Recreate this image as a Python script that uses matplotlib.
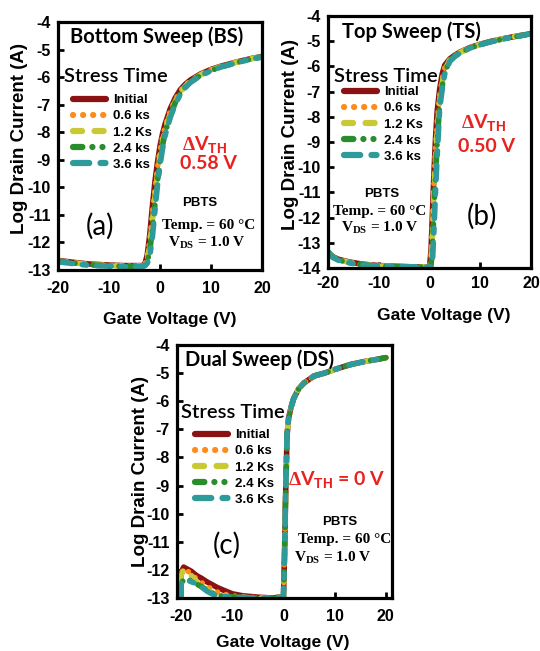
import numpy as np
import matplotlib
matplotlib.use('Agg')
import matplotlib.pyplot as plt
from matplotlib.lines import Line2D

plt.rcParams['font.family'] = 'Liberation Sans'
plt.rcParams['font.weight'] = 'bold'
plt.rcParams['axes.unicode_minus'] = False
plt.rcParams['mathtext.fontset'] = 'custom'
plt.rcParams['mathtext.bf'] = 'Liberation Serif:bold'
plt.rcParams['mathtext.sf'] = 'Liberation Sans:bold'
plt.rcParams['mathtext.rm'] = 'Liberation Serif:bold'

# stress time labels (the picture itself mixes "ks" and "Ks")
labels_ab = ['Initial', '0.6 ks', '1.2 Ks', '2.4 ks', '3.6 ks']
labels_c = ['Initial', '0.6 ks', '1.2 Ks', '2.4 Ks', '3.6 Ks']

# (a) bottom sweep
vg_a = [-20, -17, -14, -10, -7, -5, -3.5, -3, -2.5, -2, -1.5, -1, -0.5, 0, 0.5, 1,
        2, 3, 4, 5, 6, 8, 10, 12, 15, 18, 20]
a_init = [-12.65, -12.72, -12.78, -12.82, -12.84, -12.84, -12.84, -12.8, -12.45, -11.7,
          -10.7, -9.8, -9.1, -8.5, -8.05, -7.7, -7.15, -6.75, -6.45, -6.25, -6.1,
          -5.88, -5.72, -5.6, -5.45, -5.32, -5.25]
a_06 = [-12.66, -12.73, -12.79, -12.83, -12.85, -12.85, -12.85, -12.82, -12.55, -11.9,
        -10.95, -10.05, -9.3, -8.65, -8.17, -7.8, -7.23, -6.82, -6.5, -6.28, -6.13,
        -5.9, -5.73, -5.61, -5.46, -5.33, -5.26]
a_12 = [-12.67, -12.74, -12.8, -12.84, -12.86, -12.86, -12.86, -12.83, -12.62, -12.1,
        -11.25, -10.35, -9.55, -8.85, -8.33, -7.92, -7.31, -6.88, -6.55, -6.32, -6.15,
        -5.91, -5.74, -5.62, -5.46, -5.33, -5.26]
a_24 = [-12.68, -12.75, -12.81, -12.85, -12.87, -12.87, -12.87, -12.84, -12.7, -12.3,
        -11.55, -10.65, -9.8, -9.05, -8.48, -8.03, -7.4, -6.93, -6.59, -6.35, -6.17,
        -5.93, -5.76, -5.63, -5.47, -5.34, -5.27]
a_36 = [-12.7, -12.77, -12.83, -12.86, -12.88, -12.88, -12.88, -12.85, -12.76, -12.5,
        -11.82, -10.86, -9.94, -9.2, -8.6, -8.12, -7.47, -6.98, -6.62, -6.37, -6.19,
        -5.94, -5.77, -5.63, -5.48, -5.34, -5.27]

# (b) top sweep
vg_b = [-20, -19, -18, -16, -14, -12, -10, -7, -4, -1, 0, 0.3, 0.6, 0.9, 1.2, 1.5,
        2, 2.5, 3, 4, 5, 6, 8, 10, 12, 15, 18, 20]
b_init = [-13.4, -13.55, -13.65, -13.75, -13.82, -13.87, -13.9, -13.93, -13.95, -13.96,
          -13.95, -13.3, -11.7, -10.1, -8.8, -7.8, -6.9, -6.3, -5.95, -5.7, -5.55, -5.43,
          -5.25, -5.12, -5.01, -4.88, -4.77, -4.7]
b_06 = [-13.38, -13.56, -13.66, -13.76, -13.83, -13.88, -13.91, -13.93, -13.95, -13.96,
        -13.96, -13.6, -12.2, -10.5, -9.2, -8.2, -7.15, -6.5, -6.05, -5.73, -5.57, -5.44,
        -5.26, -5.12, -5.01, -4.88, -4.77, -4.7]
b_12 = [-13.37, -13.57, -13.67, -13.77, -13.84, -13.88, -13.91, -13.94, -13.95, -13.96,
        -13.96, -13.8, -12.7, -10.9, -9.6, -8.6, -7.35, -6.65, -6.13, -5.75, -5.58, -5.45,
        -5.26, -5.13, -5.02, -4.88, -4.77, -4.7]
b_24 = [-13.36, -13.58, -13.68, -13.78, -13.85, -13.89, -13.92, -13.94, -13.95, -13.96,
        -13.96, -13.9, -13.2, -11.6, -10.3, -9.1, -7.5, -6.8, -6.22, -5.78, -5.59, -5.46,
        -5.27, -5.13, -5.02, -4.89, -4.78, -4.7]
b_36 = [-13.35, -13.58, -13.69, -13.79, -13.86, -13.9, -13.92, -13.94, -13.95, -13.96,
        -13.96, -13.96, -13.7, -12.4, -10.9, -9.6, -7.7, -6.9, -6.3, -5.8, -5.6, -5.47,
        -5.27, -5.14, -5.03, -4.89, -4.78, -4.71]

# (c) dual sweep
vg_c = [-20, -20, -19.5, -19, -18, -17, -16, -15, -14, -13, -12, -10, -8, -5, -2, -1, 0,
        0.2, 0.4, 0.7, 1, 1.5, 2, 3, 4, 6, 8, 10, 13, 16, 18, 20]
c_on = [-11.5, -9.5, -7.2, -6.6, -6.2, -5.9, -5.55, -5.35, -5.1, -5.0, -4.87, -4.7,
        -4.58, -4.52, -4.45]
c_init = [-13.0, -12.1, -11.9, -11.95, -12.05, -12.2, -12.3, -12.42, -12.52, -12.62,
          -12.7, -12.85, -12.92, -12.97, -13.0, -12.97, -12.95] + c_on
c_06 = [-13.0, -12.15, -11.95, -12.0, -12.15, -12.32, -12.45, -12.58, -12.68, -12.78,
        -12.85, -12.92, -12.96, -12.99, -13.0, -12.97, -12.95] + c_on
c_12 = [-13.0, -12.2, -12.0, -12.05, -12.2, -12.4, -12.55, -12.7, -12.8, -12.9,
        -12.93, -12.96, -12.98, -13.0, -13.0, -12.98, -12.95] + c_on
c_24 = [-13.0, -12.5, -12.35, -12.3, -12.4, -12.5, -12.6, -12.72, -12.82, -12.9,
        -12.93, -12.96, -12.98, -13.0, -13.0, -12.98, -12.95] + c_on
c_36 = [-13.0, -12.5, -12.4, -12.35, -12.42, -12.5, -12.6, -12.75, -12.85, -12.92,
        -12.95, -12.97, -12.98, -13.0, -13.0, -12.98, -12.95] + c_on

colori = ['#8b1212', '#ff8c1a', '#c9c935', '#2b8c2b', '#2e9a9a']
stili = ['-', (0, (0.01, 1.6)), (0, (1.45, 2.0)), (0, (1.5, 1.6, 0.01, 1.6, 0.01, 1.6)),
         (0, (2.6, 1.8, 0.8, 1.8))]

W, H = 540, 651
fig = plt.figure(figsize=(W / 100, H / 100), dpi=100)


def px(x, y):
    return (x / W, 1 - y / H)


def pannello(box, vg, serie, ylim, xlim, xpad):
    l, t, r, b = box
    ax = fig.add_axes([l / W, 1 - b / H, (r - l) / W, (b - t) / H])
    for yv, c, ls in zip(serie, colori, stili):
        ax.plot(vg, yv, color=c, lw=4, linestyle=ls, dash_capstyle='round',
                solid_capstyle='round', solid_joinstyle='round')
    ax.set_xlim(*xlim)
    ax.set_ylim(*ylim)
    ax.set_xticks([-20, -10, 0, 10, 20])
    ax.set_yticks(np.arange(ylim[0], ylim[1] + 1))
    ax.tick_params(direction='in', length=4, width=2, labelsize=11.5)
    ax.tick_params(axis='x', pad=xpad)
    ax.tick_params(axis='y', pad=5)
    for s in ax.spines.values():
        s.set_linewidth(2.3)
    ax.set_xlabel('Gate Voltage (V)', fontsize=12.5, fontweight='bold')
    ax.set_ylabel('Log Drain Current (A)', fontsize=13.5, fontweight='bold')
    ax.yaxis.label.set_va('center')
    ax.xaxis.label.set_va('center')
    return ax


def legenda(ax, labels, x, y):
    handles = [Line2D([], [], color=c, lw=4.5, linestyle=ls, dash_capstyle='round',
                      solid_capstyle='round') for c, ls in zip(colori, stili)]
    ax.legend(handles, labels, loc='upper left', bbox_to_anchor=px(x, y),
              bbox_transform=fig.transFigure, frameon=False, borderpad=0, borderaxespad=0,
              handlelength=2.5, handletextpad=0.55, labelspacing=0.3,
              prop={'family': 'Liberation Sans', 'weight': 'bold', 'size': 9.5})


def testo(x, y, s, **kw):
    fig.text(*px(x, y), s, **kw)


titolo = dict(family=['Lato', 'DejaVu Sans'], fontsize=14.5, fontweight='bold', va='center', ha='left')
stress = dict(family=['Lato', 'DejaVu Sans'], fontsize=14.5, fontweight='semibold', va='center', ha='left')
rosso = dict(family=['Lato', 'DejaVu Sans'], fontsize=14, fontweight='bold', color='#e8221e', va='center', ha='left')
pbts = dict(family='Liberation Sans', fontsize=9.5, fontweight='bold', va='center', ha='center')
serif = dict(family='Liberation Serif', fontsize=11, fontweight='bold', va='center', ha='center')
lettera = dict(family=['Lato', 'DejaVu Sans'], fontsize=20, fontweight='normal', va='center', ha='center')

# (a)
ax_a = pannello((58, 22, 262, 270), vg_a, [a_init, a_06, a_12, a_24, a_36], (-13, -4), (-20, 20), 8)
ax_a.yaxis.set_label_coords(-0.19, 0.53)
ax_a.xaxis.set_label_coords(0.55, -0.2)
legenda(ax_a, labels_ab, 73, 94)
testo(70, 37, 'Bottom Sweep (BS)', **titolo)
testo(64, 77, 'Stress Time', **stress)
testo(182, 145, r'$\Delta$V$_\mathsf{TH}$', **rosso)
testo(180, 163, '0.58 V', **rosso)
testo(200, 203, 'PBTS', **pbts)
testo(209, 226, 'Temp. = 60 °C', **serif)
testo(207, 243, r'V$_\mathbf{DS}$ = 1.0 V', **serif)
testo(100, 226, '(a)', **lettera)

# (b)
ax_b = pannello((328, 16, 531, 268), vg_b, [b_init, b_06, b_12, b_24, b_36], (-14, -4), (-20, 20), 6)
ax_b.yaxis.set_label_coords(-0.186, 0.53)
ax_b.xaxis.set_label_coords(0.57, -0.19)
legenda(ax_b, labels_ab, 344, 86)
testo(342, 32, 'Top Sweep (TS)', **titolo)
testo(334, 77, 'Stress Time', **stress)
testo(461, 123, r'$\Delta$V$_\mathsf{TH}$', **rosso)
testo(458, 146, '0.50 V', **rosso)
testo(382, 194, 'PBTS', **pbts)
testo(380, 211, 'Temp. = 60 °C', **serif)
testo(380, 228, r'V$_\mathbf{DS}$ = 1.0 V', **serif)
testo(482, 216, '(b)', **lettera)

# (c)
ax_c = pannello((177, 345, 392, 598), vg_c, [c_init, c_06, c_12, c_24, c_36], (-13, -4), (-20.8, 21.2), 8)
ax_c.yaxis.set_label_coords(-0.17, 0.5)
ax_c.xaxis.set_label_coords(0.49, -0.175)
legenda(ax_c, labels_c, 195, 429)
testo(185, 360, 'Dual Sweep (DS)', **titolo)
testo(181, 412, 'Stress Time', **stress)
testo(288, 480, r'$\Delta$V$_\mathsf{TH}$ = 0 V', **rosso)
testo(340, 522, 'PBTS', **pbts)
testo(345, 540, 'Temp. = 60 °C', **serif)
testo(333, 558, r'V$_\mathbf{DS}$ = 1.0 V', **serif)
testo(227, 545, '(c)', **lettera)

fig.savefig('out.png', dpi=100)
